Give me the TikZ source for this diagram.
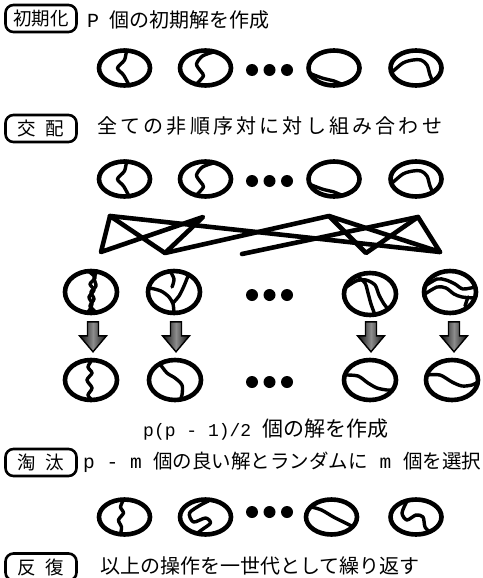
\documentclass[tikz,border=0pt]{standalone}
\usepackage{fontspec}
\newfontfamily\jp{Noto Sans CJK JP}
\newfontfamily\jpls[LetterSpace=16]{Noto Sans CJK JP}
\newfontfamily\mono{Liberation Mono}
\usetikzlibrary{shapes.geometric,calc}
\tikzset{
 ell/.style={ellipse,draw,line width=4.6pt,inner sep=0pt},
 big/.style={ell,minimum width=51pt,minimum height=35pt},
 kid/.style={ell,minimum width=52pt,minimum height=42pt},
 mut/.style={ell,minimum width=52pt,minimum height=40pt},
 strand/.style={line width=3.4pt,line cap=round,line join=round},
 cross/.style={line width=4.6pt,line cap=round,line join=round},
 bigdot/.style={circle,fill,inner sep=0pt,minimum size=12pt},
 lab/.style={draw,rounded corners=8pt,line width=2.6pt,minimum width=71pt,minimum height=27pt,inner sep=0pt,font=\jp\fontsize{18.5}{18.5}\selectfont},
 txt/.style={anchor=west,inner sep=0pt,font=\jp\fontsize{20}{20}\selectfont},
 blockarr/.pic={
   \draw[line width=1.4pt,line join=miter,left color=black!95,right color=black!95,middle color=black!45]
     (-5.5,0) -- (5.5,0) -- (5.5,14) -- (13.5,14) -- (0,30) -- (-13.5,14) -- (-5.5,14) -- cycle;
 }
}
\newcommand\drawstr[2]{\draw[strand,shift={(#1.center)}] plot[smooth,tension=0.5] coordinates {#2};}
\newcommand\rowstrands[4]{%
 \drawstr{#1}{(2,-18) (0,-8) (-7,0) (-1,7) (5,18)}
 \drawstr{#2}{(8,-16) (-3,-12) (-9,-4) (-5,3) (-2,8) (-10,17)}
 \drawstr{#3}{(-25,5) (-12,10) (0,13) (8,16) (14,14) (22,10)}
 \drawstr{#4}{(-25,5) (-13,-5) (-3,-8) (5,-8) (11,-3) (14,7) (17,14)}
}
\begin{document}
\begin{tikzpicture}[x=1pt,y=-1pt]
\useasboundingbox (0,0) rectangle (482,578);

% ---------- row 1: initialisation
\node[lab] (l1) at (41,18.5) {初期化};
\node[txt] (t1) at (87,20) {{\mono\fontsize{20}{20}\selectfont P}\hspace{10pt}個の初期解を作成};
\node[big] (a1) at (124.5,68) {};
\node[big] (a2) at (205.5,68) {};
\node[big] (a3) at (334,68) {};
\node[big] (a4) at (416,68) {};
\rowstrands{a1}{a2}{a3}{a4}
\node[bigdot] (ad1) at (252,70) {};
\node[bigdot] (ad2) at (269.5,70) {};
\node[bigdot] (ad3) at (287,70) {};

% ---------- row 2: crossover
\node[lab] (l2) at (41,128.5) {交\hspace{10pt}配};
\node[txt,font=\jpls\fontsize{20}{20}\selectfont] (t2) at (97,126) {全ての非順序対に対し組み合わせ};
\node[big] (b1) at (124.5,179) {};
\node[big] (b2) at (205.5,179) {};
\node[big] (b3) at (334,179) {};
\node[big] (b4) at (416,179) {};
\rowstrands{b1}{b2}{b3}{b4}
\node[bigdot] (bd1) at (252,181) {};
\node[bigdot] (bd2) at (269.5,181) {};
\node[bigdot] (bd3) at (287,181) {};

% crossing lines
\coordinate (A) at (110,216);
\coordinate (B) at (101,252);
\coordinate (C) at (165,253);
\coordinate (D) at (203,217);
\coordinate (E) at (242,254);
\coordinate (P) at (329,216);
\coordinate (Q) at (366,253);
\coordinate (R) at (440,252);
\coordinate (S) at (418,217);
\draw[cross] (B) -- (A) -- (C) -- (D) -- cycle;
\draw[cross] (P) -- (Q) -- (S) -- (R) -- cycle;
\draw[cross] (A) -- (R);
\draw[cross] (C) -- (P);
\draw[cross] (E) -- (S);

% ---------- children
\node[kid] (c1) at (91,292) {};
\node[kid] (c2) at (174,292) {};
\node[kid] (c3) at (370,294) {};
\node[kid] (c4) at (450,292) {};
\drawstr{c1}{(2,-21) (4,-14) (-1,-8) (3,-2) (-2,5) (1,12) (-3,21)}
\drawstr{c1}{(6,-21) (3,-14) (5,-6) (0,0) (3,7) (-1,14) (4,21)}
\fill[shift={(c1.center)}] (-4,-20) -- (8,-20) -- (3,-14) -- cycle;
\fill[shift={(c1.center)}] (-6,20) -- (7,20) -- (1,14) -- cycle;
\drawstr{c2}{(-24,-4) (-13,-1) (-5,5) (-1,12) (0,21)}
\drawstr{c2}{(-4,-21) (0,-13) (-2,-5)}
\drawstr{c2}{(14,-16) (10,-6) (5,4) (-1,11)}
\drawstr{c3}{(-25,-6) (-14,-13) (-4,-14) (5,-9) (9,1) (14,10) (18,15)}
\drawstr{c3}{(-13,-18) (-5,-11) (-2,-1) (1,10) (5,21)}
\drawstr{c4}{(-25,-6) (-13,-13) (-4,-12) (5,-8) (13,-3) (25,-5)}
\drawstr{c4}{(-25,2) (-13,-5) (-4,-4) (4,2) (12,5) (24,6)}
\drawstr{c4}{(18,5) (15,14)}
\node[bigdot] (cd1) at (252,295) {};
\node[bigdot] (cd2) at (269.5,295) {};
\node[bigdot] (cd3) at (287,295) {};

% ---------- mutated
\node[mut] (m1) at (91,380) {};
\node[mut] (m2) at (175,380) {};
\node[mut] (m3) at (370,380) {};
\node[mut] (m4) at (452,380) {};
\drawstr{m1}{(1,-20) (-3,-13) (1,-7) (-4,0) (1,8) (-3,15) (1,20)}
\drawstr{m2}{(-15,-16) (-8,-7) (0,-2) (7,5) (7,15) (5,20)}
\drawstr{m3}{(-25,-5) (-12,-4) (-2,3) (7,8) (17,10) (23,10)}
\drawstr{m4}{(-25,-5) (-12,-5) (0,2) (10,6) (20,5) (26,2)}
\node[bigdot] (md1) at (252,382) {};
\node[bigdot] (md2) at (269.5,382) {};
\node[bigdot] (md3) at (287,382) {};

% block arrows child -> mutated
\pic at ($(c1.south)+(2,6.5)$) {blockarr};
\pic at ($(c2.south)+(2,6.5)$) {blockarr};
\pic at ($(c3.south)+(1,4.5)$) {blockarr};
\pic at ($(c4.south)+(4,6.5)$) {blockarr};

\node[txt] (t3) at (143,430) {{\mono\fontsize{18}{18}\selectfont p(p - 1)/2 }{\fontsize{21}{21}\selectfont 個の解を作成}};

% ---------- selection
\node[lab] (l3) at (41,462.5) {淘\hspace{10pt}汰};
\node[txt,font=\jp\fontsize{19.5}{19.5}\selectfont] (t4) at (83,462) {{\mono\fontsize{19.5}{19.5}\selectfont p - m }個の良い解とランダムに{\mono\fontsize{19.5}{19.5}\selectfont{} m }個を選択};
\node[big] (s1) at (124.5,517) {};
\node[big] (s2) at (205.5,517) {};
\node[big] (s3) at (331.5,517) {};
\node[big] (s4) at (416,517) {};
\drawstr{s1}{(-1,-17) (-4,-10) (-1,-4) (-6,3) (-3,10) (-4,17)}
\drawstr{s2}{(3,-16) (-5,-12) (-16,-4) (-12,5) (0,1) (5,6) (-4,13) (-8,16)}
\drawstr{s3}{(-20,-10) (-10,-7) (2,0) (12,5) (21,9.5)}
\drawstr{s4}{(-9,-16) (-14,-4) (-9,3) (0,-2) (7,0) (9,10) (14,15)}
\node[bigdot] (sd1) at (252,512) {};
\node[bigdot] (sd2) at (269.5,512) {};
\node[bigdot] (sd3) at (287,512) {};

% ---------- repetition
\node[lab] (l4) at (41,567) {反\hspace{10pt}復};
\node[txt] (t5) at (100,566) {以上の操作を一世代として繰り返す};
\end{tikzpicture}
\end{document}
